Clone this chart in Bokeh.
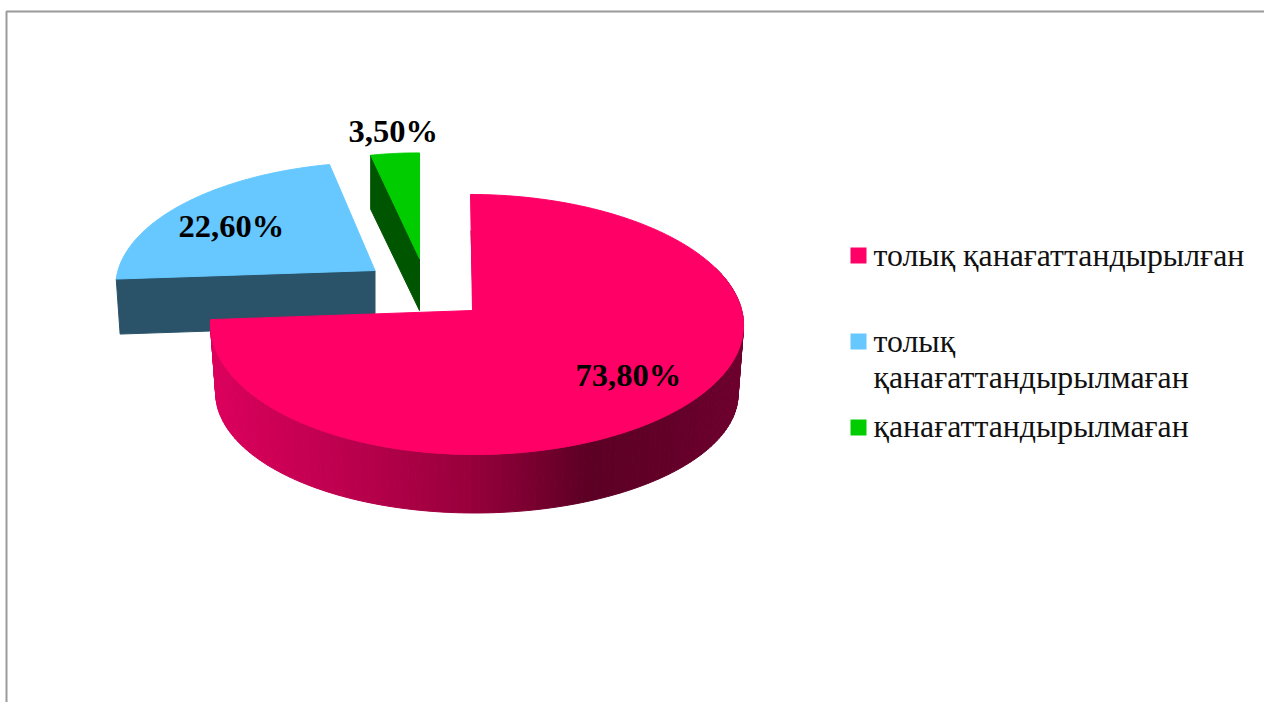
import math
from bokeh.plotting import figure
from bokeh.models import Range1d
from bokeh.core.properties import value
from bokeh.embed import file_html
from bokeh.resources import INLINE

# --- data ---
categories = ["толық қанағаттандырылған", "толық қанағаттандырылмаған", "қанағаттандырылмаған"]
shares = [73.8, 22.6, 3.5]
share_labels = ["73,80%", "22,60%", "3,50%"]
legend_lines = [["толық қанағаттандырылған"], ["толық", "қанағаттандырылмаған"], ["қанағаттандырылмаған"]]
top_colors = ["#FF0066", "#66C8FF", "#00CC00"]
wall_colors = ["#62002A", "#2A5268", "#005500"]

# --- layout of the projected pie (not data) ---
W, H = 1264, 702
K = 0.1077
geom = [
    dict(ax=472, ay=310, B=265, A=128.5, s=-2.2, e=0.016, d=70, mx=0.98, my=0.92),
    dict(ax=374.5, ay=270, B=257, A=120, s=6.0, e=0.0, d=55, mx=0.985, my=1.0),
    dict(ax=419, ay=258, B=247, A=117, s=0.0, e=0.0, d=52, mx=1.0, my=0.98),
]
label_pos = [(575, 374), (178, 225), (348, 130)]
legend_sq = [247, 333, 419]
legend_base = [[255], [341, 377], [426]]

# slice angles from the values (clockwise from 12 o'clock)
total = sum(shares)
bounds = [0.0]
for v_ in shares:
    bounds.append(bounds[-1] + v_ / total * 360.0)


def rim(theta, g):
    t = math.radians(theta)
    u, v = math.sin(t), math.cos(t)
    w = 1 + K * v
    return (g["B"] * u * (1 + g["e"] * u) + g["s"] * v) / w, -g["A"] * v / w


def top(theta, g):
    x, y = rim(theta, g)
    return g["ax"] + x, g["ay"] + y


def bot(theta, g):
    x, y = rim(theta, g)
    return g["ax"] + g["mx"] * x, g["ay"] + g["d"] + g["my"] * y


def lerp_hex(stops, x):
    if x <= stops[0][0]:
        return stops[0][1]
    for (x0, c0), (x1, c1) in zip(stops, stops[1:]):
        if x <= x1:
            f = (x - x0) / (x1 - x0)
            a = [int(c0[i:i + 2], 16) for i in (1, 3, 5)]
            b = [int(c1[i:i + 2], 16) for i in (1, 3, 5)]
            return "#%02x%02x%02x" % tuple(round(p + (q - p) * f) for p, q in zip(a, b))
    return stops[-1][1]


p = figure(width=W, height=H, output_backend="svg", toolbar_location=None,
           x_range=Range1d(0, W), y_range=Range1d(H, 0),
           min_border=0, outline_line_color=None, background_fill_color="white",
           x_axis_location=None, y_axis_location=None)
p.grid.visible = False
p.styles = {"position": "absolute", "left": "0px", "top": "0px"}

# frame
p.line([6, 6, W], [H, 11, 11], line_color="#9a9a9a", line_width=2)


def arc(a0, a1, g, fn, n=80):
    return [fn(a0 + (a1 - a0) * i / n, g) for i in range(n + 1)]


# blue slice: wall, then top
g = geom[1]
a0, a1 = bounds[1], bounds[2]
r0t, r0b = top(a0, g), bot(a0, g)
ab = (g["ax"], g["ay"] + g["d"])
p.patch([g["ax"], r0t[0], r0b[0], ab[0]], [g["ay"], r0t[1], r0b[1], ab[1]],
        fill_color=wall_colors[1], line_color=wall_colors[1], line_width=1)
pts = [(g["ax"], g["ay"])] + arc(a0, a1, g, top)
p.patch([q[0] for q in pts], [q[1] for q in pts], fill_color=top_colors[1], line_color=top_colors[1], line_width=1)

# green slice: wall, then top
g = geom[2]
a0, a1 = bounds[2], bounds[3]
r0t, r0b = top(a0, g), bot(a0, g)
ab = (g["ax"], g["ay"] + g["d"])
p.patch([g["ax"], r0t[0], r0b[0], ab[0]], [g["ay"], r0t[1], r0b[1], ab[1]],
        fill_color=wall_colors[2], line_color=wall_colors[2], line_width=1)
pts = [(g["ax"], g["ay"])] + arc(a0, a1, g, top)
p.patch([q[0] for q in pts], [q[1] for q in pts], fill_color=top_colors[2], line_color=top_colors[2], line_width=1)

# red slice: shaded outer wall in strips, then top
g = geom[0]
a0, a1 = bounds[0], bounds[1]
stops = [(208, "#DC005C"), (330, "#C00050"), (470, "#98003C"), (590, "#5C0024"), (680, "#640029"), (745, "#6E002E")]
n = 140
xs, ys, cs = [], [], []
for i in range(n):
    th0 = a1 + (70 - a1) * i / n
    th1 = a1 + (70 - a1) * (i + 1) / n
    t0, t1, b0, b1 = top(th0, g), top(th1, g), bot(th0, g), bot(th1, g)
    xs.append([t0[0], t1[0], b1[0], b0[0]])
    ys.append([t0[1], t1[1], b1[1], b0[1]])
    c = lerp_hex(stops, (t0[0] + t1[0]) / 2)
    cs.append(c)
p.patches(xs, ys, fill_color=cs, line_color=cs, line_width=1)
# thin inner wall at the 12 o'clock edge
p.line([g["ax"] - 1.2, g["ax"] + 1], [g["ay"] - 80, g["ay"]], line_color=wall_colors[0], line_width=1.5)
pts = [(g["ax"], g["ay"])] + arc(a0, a1, g, top, 240)
p.patch([q[0] for q in pts], [q[1] for q in pts], fill_color=top_colors[0], line_color=top_colors[0], line_width=1)

# value labels
p.text([q[0] for q in label_pos], [q[1] for q in label_pos], text=share_labels,
       text_font=value("Liberation Serif"), text_font_style="bold", text_font_size="32.5px",
       text_color="black", text_align="left", text_baseline="alphabetic")

# legend
for i, col in enumerate(top_colors):
    p.quad(left=[850], right=[866], top=[legend_sq[i]], bottom=[legend_sq[i] + 16], fill_color=col, line_color=None)
    p.text([873] * len(legend_lines[i]), legend_base[i], text=legend_lines[i],
           text_font=value("Liberation Serif"), text_font_size="31.8px",
           text_color="#111111", text_align="left", text_baseline="alphabetic")

open("out.html", "w").write(file_html(p, INLINE))
